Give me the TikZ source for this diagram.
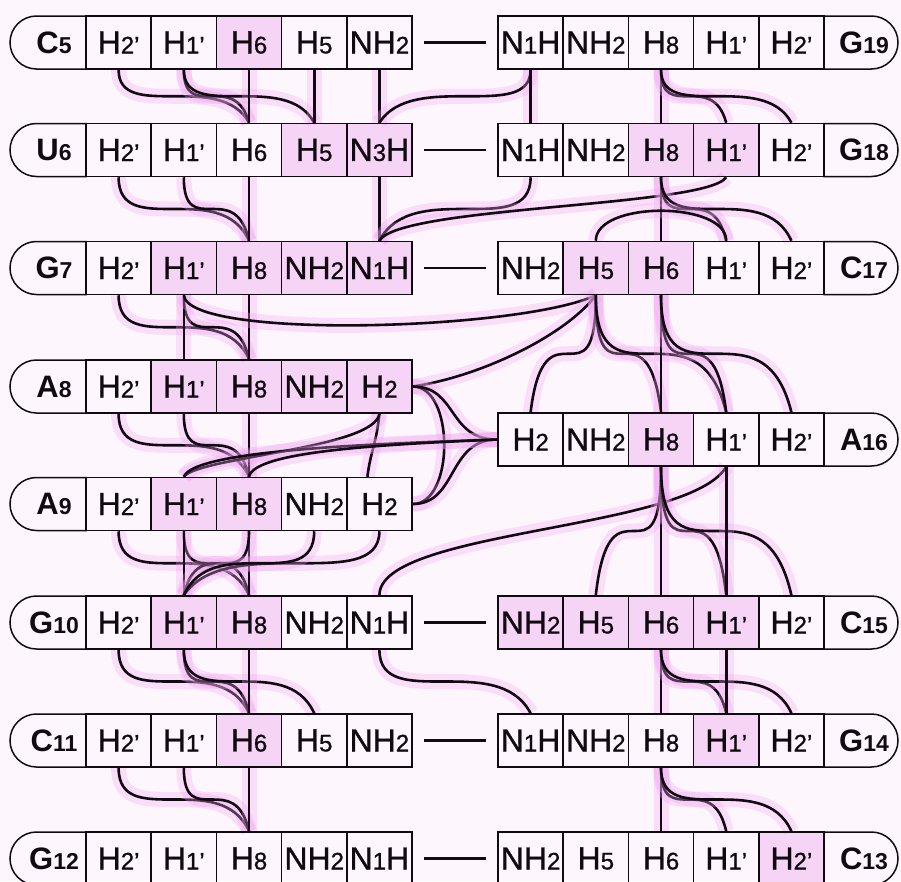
\documentclass[tikz,border=0pt]{standalone}
\usepackage{fontspec}
\setmainfont{Liberation Sans}[UprightFeatures={FakeBold=0.9}]
\usetikzlibrary{shapes.misc,calc}
\pgfdeclarelayer{bg}
\pgfsetlayers{bg,main}
\definecolor{halo}{RGB}{240,165,240}
\definecolor{cellpink}{RGB}{246,212,246}
\definecolor{paper}{RGB}{253,246,253}
\definecolor{ink}{RGB}{18,10,18}
\newcommand\dg[1]{{\fontsize{24}{24}\selectfont #1}}
\newcommand\ldg[1]{{\fontsize{23}{23}\selectfont #1}}
\tikzset{
 cell/.style={draw=ink, line width=1.5pt, minimum width=65.2pt, minimum height=53pt, inner sep=0pt, font=\fontsize{32}{32}\selectfont, text=ink},
 lcap/.style={draw=ink, line width=1.5pt, rounded rectangle, rounded rectangle right arc=none, minimum width=76pt, minimum height=53pt, inner sep=0pt},
 rcap/.style={draw=ink, line width=1.5pt, rounded rectangle, rounded rectangle left arc=none, minimum width=74pt, minimum height=53pt, inner sep=0pt},
 labtext/.style={font=\fontsize{31}{31}\selectfont\bfseries, text=ink, inner sep=0pt},
 noe/.style={draw=ink, line width=2.6pt, preaction={draw=halo, line width=15pt, opacity=0.3}},
 pair/.style={draw=ink, line width=2.2pt},
}
\newcommand\Lrow[8]{%
  \node[lcap] (r#1L) at (48,#2) {};
  \node[labtext] (r#1t) at (54,#2) {#3};
  \node[cell] (r#1c1) at (118.6,#2) {#4};
  \node[cell] (r#1c2) at (183.8,#2) {#5};
  \node[cell] (r#1c3) at (249.0,#2) {#6};
  \node[cell] (r#1c4) at (314.2,#2) {#7};
  \node[cell] (r#1c5) at (379.4,#2) {#8};
}
\newcommand\Rrow[8]{%
  \node[cell] (r#1c1) at (530.6,#2) {#4};
  \node[cell] (r#1c2) at (595.8,#2) {#5};
  \node[cell] (r#1c3) at (661.0,#2) {#6};
  \node[cell] (r#1c4) at (726.2,#2) {#7};
  \node[cell] (r#1c5) at (791.4,#2) {#8};
  \node[rcap] (r#1L) at (861,#2) {};
  \node[labtext] (r#1t) at (864,#2) {#3};
}
\newcommand\vcon[2]{\draw[noe] (#1.south) -- (#2.north);}
\newcommand\scon[2]{\draw[noe] (#1.south) .. controls (#1.south |- #2.north) and ($(#2.north |- #1.south)!0.22!(#1.south)$) .. (#2.north);}
\begin{document}
\begin{tikzpicture}[x=1pt,y=-1pt]
\useasboundingbox (0,0) rectangle (901,881);
% rows
\Lrow{5}{42.5}{C\ldg{5}}{H\dg{2’}}{H\dg{1’}}{H\dg{6}}{H\dg{5}}{NH\dg{2}}
\Lrow{6}{150}{U\ldg{6}}{H\dg{2’}}{H\dg{1’}}{H\dg{6}}{H\dg{5}}{N\dg{3}H}
\Lrow{7}{268}{G\ldg{7}}{H\dg{2’}}{H\dg{1’}}{H\dg{8}}{NH\dg{2}}{N\dg{1}H}
\Lrow{8}{386.5}{A\ldg{8}}{H\dg{2’}}{H\dg{1’}}{H\dg{8}}{NH\dg{2}}{H\dg{2}}
\Lrow{9}{504}{A\ldg{9}}{H\dg{2’}}{H\dg{1’}}{H\dg{8}}{NH\dg{2}}{H\dg{2}}
\Lrow{10}{622.5}{G\ldg{10}}{H\dg{2’}}{H\dg{1’}}{H\dg{8}}{NH\dg{2}}{N\dg{1}H}
\Lrow{11}{740.5}{C\ldg{11}}{H\dg{2’}}{H\dg{1’}}{H\dg{6}}{H\dg{5}}{NH\dg{2}}
\Lrow{12}{858.5}{G\ldg{12}}{H\dg{2’}}{H\dg{1’}}{H\dg{8}}{NH\dg{2}}{N\dg{1}H}
\Rrow{19}{42.5}{G\ldg{19}}{N\dg{1}H}{NH\dg{2}}{H\dg{8}}{H\dg{1’}}{H\dg{2’}}
\Rrow{18}{150}{G\ldg{18}}{N\dg{1}H}{NH\dg{2}}{H\dg{8}}{H\dg{1’}}{H\dg{2’}}
\Rrow{17}{268}{C\ldg{17}}{NH\dg{2}}{H\dg{5}}{H\dg{6}}{H\dg{1’}}{H\dg{2’}}
\Rrow{16}{439.5}{A\ldg{16}}{H\dg{2}}{NH\dg{2}}{H\dg{8}}{H\dg{1’}}{H\dg{2’}}
\Rrow{15}{622.5}{C\ldg{15}}{NH\dg{2}}{H\dg{5}}{H\dg{6}}{H\dg{1’}}{H\dg{2’}}
\Rrow{14}{740.5}{G\ldg{14}}{N\dg{1}H}{NH\dg{2}}{H\dg{8}}{H\dg{1’}}{H\dg{2’}}
\Rrow{13}{858.5}{C\ldg{13}}{NH\dg{2}}{H\dg{5}}{H\dg{6}}{H\dg{1’}}{H\dg{2’}}
% base pairs
\foreach \a/\b in {5/19,6/18,7/17,10/15,11/14,12/13}
  \draw[pair] ([xshift=11pt]r\a c5.east) -- ([xshift=-11pt]r\b c1.west);
\begin{pgfonlayer}{bg}
\fill[paper] (0,0) rectangle (901,881);
\foreach \c in {r5c3,r6c4,r6c5,r7c2,r7c3,r7c4,r7c5,r8c2,r8c3,r8c4,r8c5,r9c2,r9c3,r10c2,r10c3,r11c3,
  r18c3,r18c4,r17c2,r17c3,r16c3,r15c1,r15c2,r15c3,r15c4,r14c4,r13c5}
  \fill[cellpink] (\c.south west) rectangle (\c.north east);
% C5 -> U6
\scon{r5c1}{r6c3} \scon{r5c2}{r6c3} \scon{r5c2}{r6c4}
\vcon{r5c3}{r6c3} \vcon{r5c4}{r6c4} \vcon{r5c5}{r6c5}
\scon{r19c1}{r6c5}
\vcon{r19c1}{r18c1} \vcon{r19c3}{r18c3} \scon{r19c3}{r18c4} \scon{r19c3}{r18c5}
% U6 -> G7
\scon{r6c1}{r7c3} \scon{r6c2}{r7c3} \vcon{r6c3}{r7c3} \vcon{r6c5}{r7c5}
\scon{r18c1}{r7c5}
\draw[noe] (r18c4.south) .. controls +(-20,30) and +(20,-35) .. (r7c5.north);
\vcon{r18c3}{r17c3} \scon{r18c3}{r17c4} \scon{r18c3}{r17c5}
\draw[noe] (r17c2.north) .. controls +(0,-40) and +(0,-40) .. (r17c4.north);
% G7 -> A8
\scon{r7c1}{r8c3} \scon{r7c2}{r8c3} \vcon{r7c2}{r8c2} \vcon{r7c3}{r8c3}
\draw[noe] (r7c2.south) .. controls +(5,45) and +(-75,35) .. (r17c2.south);
\draw[noe] (r8c5.east) .. controls +(68,-10) and +(-30,40) .. (r17c2.south);
\scon{r17c2}{r16c1} \scon{r17c2}{r16c3} \scon{r17c2}{r16c4}
\vcon{r17c3}{r16c3} \scon{r17c3}{r16c4} \scon{r17c3}{r16c5}
% A8 -> A9
\scon{r8c1}{r9c3} \scon{r8c2}{r9c3} \vcon{r8c3}{r9c3}
\draw[noe] (r8c5.south) .. controls +(-3,30) and +(3,-25) .. ([xshift=-12pt]r9c5.north);
\draw[noe] (r8c5.east) .. controls +(42,0) and +(42,0) .. (r9c5.east);
\draw[noe] (r8c5.east) .. controls +(45,0) and +(-50,0) .. (r16c1.west);
\draw[noe] (r9c5.east) .. controls +(45,0) and +(-50,0) .. (r16c1.west);
\draw[noe] (r8c5.south) .. controls +(-5,35) and +(15,-20) .. (r9c2.north);
\draw[noe] (r16c1.west) .. controls +(-150,5) and +(10,-25) .. (r9c2.north);
\draw[noe] (r16c1.west) .. controls +(-120,5) and +(5,-25) .. (r9c3.north);
% A9 -> G10
\scon{r9c1}{r10c3} \scon{r9c2}{r10c3} \vcon{r9c2}{r10c2} \vcon{r9c3}{r10c3}
\scon{r9c3}{r10c2} \scon{r9c5}{r10c2} \scon{r9c4}{r10c2}
\draw[noe] (r16c4.south) .. controls +(-37,64) and +(0,-66) .. (r10c5.north);
\vcon{r16c3}{r15c3} \scon{r16c3}{r15c2} \scon{r16c3}{r15c4} \scon{r16c3}{r15c5} \vcon{r16c4}{r15c4}
% G10 -> C11
\scon{r10c1}{r11c3} \scon{r10c2}{r11c3} \scon{r10c2}{r11c4} \vcon{r10c3}{r11c3}
\scon{r10c5}{r14c1}
\vcon{r15c3}{r14c3} \scon{r15c3}{r14c4} \scon{r15c3}{r14c5} \vcon{r15c4}{r14c4}
% C11 -> G12
\scon{r11c1}{r12c3} \scon{r11c2}{r12c3} \vcon{r11c3}{r12c3}
\vcon{r14c3}{r13c3} \scon{r14c3}{r13c4} \scon{r14c3}{r13c5}
\end{pgfonlayer}
\end{tikzpicture}
\end{document}
